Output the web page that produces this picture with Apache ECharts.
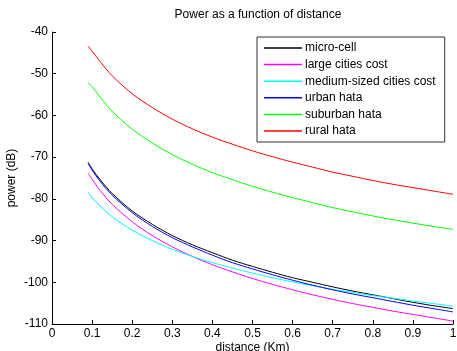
<!DOCTYPE html>
<html>
<head>
<meta charset="utf-8">
<script src="https://cdn.jsdelivr.net/npm/echarts@6/dist/echarts.min.js"></script>
<style>html,body{margin:0;padding:0;background:#fff}#c{width:457px;height:351px}</style>
</head>
<body>
<div id="c"></div>
<script>
var distances = [0.09, 0.1, 0.12, 0.15, 0.2, 0.25, 0.3, 0.35, 0.4, 0.45, 0.5, 0.55, 0.6, 0.65, 0.7, 0.75, 0.8, 0.85, 0.9, 0.95, 1.0];
var microCell = [-71.2, -72.8, -75.4, -78.7, -82.9, -86.1, -88.8, -91.0, -92.9, -94.7, -96.2, -97.6, -98.9, -100.0, -101.1, -102.1, -103.0, -103.9, -104.8, -105.6, -106.3];
var largeCities = [-73.8, -75.3, -78.0, -81.3, -85.5, -88.8, -91.5, -93.8, -95.8, -97.5, -99.1, -100.5, -101.8, -103.0, -104.1, -105.1, -106.0, -106.9, -107.7, -108.5, -109.3];
var mediumCities = [-78.4, -79.8, -81.7, -84.3, -87.5, -90.0, -92.1, -93.8, -95.3, -96.6, -97.8, -98.9, -99.9, -100.8, -101.7, -102.4, -103.2, -103.8, -104.5, -105.1, -105.7];
var urbanHata = [-71.5, -73.1, -75.8, -79.1, -83.3, -86.6, -89.3, -91.5, -93.5, -95.3, -96.8, -98.2, -99.5, -100.7, -101.8, -102.8, -103.7, -104.6, -105.5, -106.3, -107.1];
var suburbanHata = [-52.2, -53.1, -55.6, -59.0, -63.3, -66.6, -69.4, -71.7, -73.7, -75.4, -77.0, -78.4, -79.7, -80.9, -82.1, -83.1, -84.1, -85.0, -85.8, -86.6, -87.3];
var ruralHata = [-43.4, -44.6, -47.1, -50.5, -54.8, -58.1, -60.9, -63.2, -65.2, -66.9, -68.5, -69.9, -71.2, -72.4, -73.6, -74.6, -75.6, -76.5, -77.3, -78.1, -78.9];
var seriesNames = ['micro-cell', 'large cities cost', 'medium-sized cities cost', 'urban hata', 'suburban hata', 'rural hata'];
var seriesColors = ['#000000', '#ff00ff', '#00ffff', '#0000ff', '#00ff00', '#ff0000'];
var seriesValues = [microCell, largeCities, mediumCities, urbanHata, suburbanHata, ruralHata];
var xTicks = {min: 0, max: 1, interval: 0.1};
var yTicks = {min: -110, max: -40, interval: 10};

var font = 'Liberation Sans, Arial, sans-serif';
var chart = echarts.init(document.getElementById('c'), null, {renderer: 'canvas'});
var series = seriesNames.map(function (name, i) {
  return {
    name: name,
    type: 'line',
    data: distances.map(function (d, j) { return [d, seriesValues[i][j]]; }),
    symbol: 'none',
    smooth: 0.3,
    lineStyle: {color: seriesColors[i], width: 1},
    itemStyle: {color: seriesColors[i]},
    animation: false
  };
});
chart.setOption({
  animation: false,
  title: {
    text: 'Power as a function of distance',
    left: 253, top: 4, textAlign: 'center',
    textStyle: {fontFamily: font, fontSize: 12, fontWeight: 'normal', color: '#000'}
  },
  grid: {left: 52, right: 4, top: 32, bottom: 27, containLabel: false, outerBoundsMode: 'none'},
  legend: {
    orient: 'vertical',
    left: 257, top: 37,
    padding: [4, 9, 4, 7],
    backgroundColor: '#fff',
    borderColor: '#333', borderWidth: 1,
    itemWidth: 38, itemHeight: 1.5, itemGap: 2.6,
    icon: 'rect',
    textStyle: {fontFamily: font, fontSize: 12, color: '#000', lineHeight: 14, padding: [0, 0, 0, -2]},
    data: seriesNames
  },
  xAxis: {
    type: 'value', min: xTicks.min, max: xTicks.max, interval: xTicks.interval,
    name: 'distance (Km)', nameLocation: 'middle', nameGap: 18, nameMoveOverlap: false,
    nameTextStyle: {fontFamily: font, fontSize: 12, color: '#000'},
    axisLine: {onZero: false, lineStyle: {color: '#000', width: 1}},
    axisTick: {inside: true, length: 4, lineStyle: {color: '#000'}},
    axisLabel: {fontFamily: font, fontSize: 12, color: '#000', margin: 4},
    splitLine: {show: false}
  },
  yAxis: {
    type: 'value', min: yTicks.min, max: yTicks.max, interval: yTicks.interval,
    name: 'power (dB)', nameLocation: 'middle', nameGap: 34, nameMoveOverlap: false,
    nameTextStyle: {fontFamily: font, fontSize: 12, color: '#000'},
    axisLine: {show: true, onZero: false, lineStyle: {color: '#000', width: 1}},
    axisTick: {show: true, inside: true, length: 4, lineStyle: {color: '#000'}},
    axisLabel: {fontFamily: font, fontSize: 12, color: '#000', margin: 4},
    splitLine: {show: false}
  },
  series: series
});
</script>
</body>
</html>
